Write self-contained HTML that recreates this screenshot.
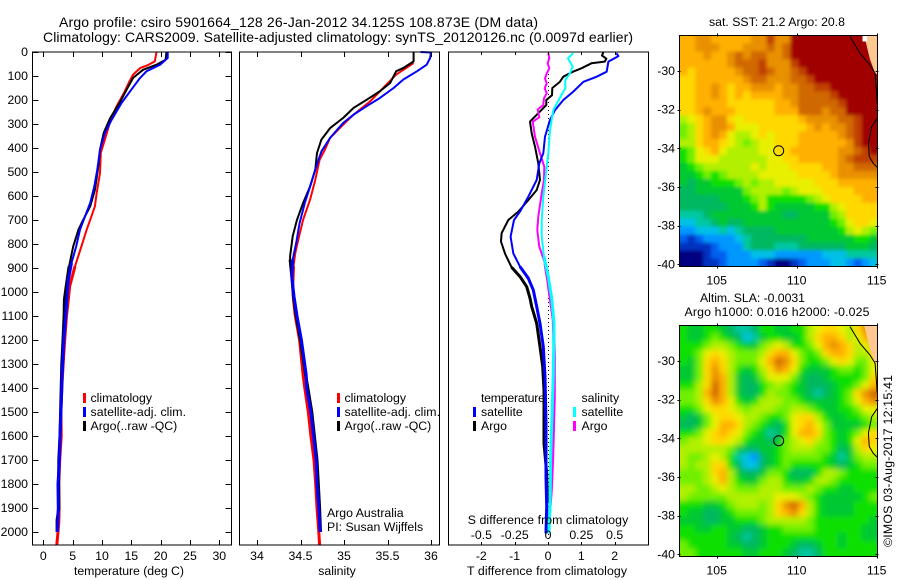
<!DOCTYPE html>
<html lang="en">
<head>
<meta charset="utf-8">
<title>Argo profile csiro 5901664_128</title>
<style>
html,body{margin:0;padding:0;background:#fff;}
svg{display:block;}
text{font-family:"Liberation Sans",sans-serif;font-size:12.3px;fill:#000;}
</style>
</head>
<body>
<svg id="chart" xmlns="http://www.w3.org/2000/svg" width="900" height="580" viewBox="0 0 900 580">
<rect width="900" height="580" fill="#fff"/>
<text x="59" y="27" style="font-size:14px" textLength="479">Argo profile: csiro 5901664_128 26-Jan-2012 34.125S 108.873E (DM data)</text>
<text x="43" y="42" style="font-size:14px" textLength="590">Climatology: CARS2009. Satellite-adjusted climatology: synTS_20120126.nc (0.0097d earlier)</text>
<g id="layer-marks"></g>

<text x="129" y="575" text-anchor="middle" textLength="110">temperature (deg C)</text>
<text x="337" y="575" text-anchor="middle">salinity</text>
<text x="547" y="575" text-anchor="middle" textLength="160">T difference from climatology</text>
<text x="548" y="524" text-anchor="middle" textLength="160.5">S difference from climatology</text>

<g>
<rect x="83" y="393" width="3" height="10" fill="#f00"/>
<text x="90.5" y="402">climatology</text>
<rect x="83" y="407" width="3" height="10" fill="#00f"/>
<text x="90.5" y="416" textLength="95.5">satellite-adj. clim.</text>
<rect x="83" y="421" width="3" height="10" fill="#000"/>
<text x="90.5" y="430">Argo(..raw -QC)</text>
</g>
<g>
<rect x="337" y="393" width="3" height="10" fill="#f00"/>
<text x="344.5" y="402">climatology</text>
<rect x="337" y="407" width="3" height="10" fill="#00f"/>
<text x="344.5" y="416" textLength="95.5">satellite-adj. clim.</text>
<rect x="337" y="421" width="3" height="10" fill="#000"/>
<text x="344.5" y="430">Argo(..raw -QC)</text>
<text x="327" y="517">Argo Australia</text>
<text x="327" y="531">PI: Susan Wijffels</text>
</g>
<g>
<text x="481" y="402" textLength="64">temperature</text>
<rect x="473" y="407" width="3" height="10" fill="#00f"/>
<text x="481" y="416">satellite</text>
<rect x="473" y="421" width="3" height="10" fill="#000"/>
<text x="481" y="430">Argo</text>
<text x="581.5" y="402">salinity</text>
<rect x="573" y="407" width="3" height="10" fill="#0ff"/>
<text x="581.5" y="416">satellite</text>
<rect x="573" y="421" width="3" height="10" fill="#f0f"/>
<text x="581.5" y="430">Argo</text>
</g>

<text x="777" y="26" text-anchor="middle">sat. SST: 21.2 Argo: 20.8</text>
<text x="752.5" y="302" text-anchor="middle" textLength="105">Altim. SLA: -0.0031</text>
<text x="777" y="316" text-anchor="middle" textLength="185">Argo h1000: 0.016 h2000: -0.025</text>
<text transform="translate(892,547) rotate(-90)" textLength="172">©IMOS 03-Aug-2017 12:15:41</text>
</svg>

<script>
/* Depth profile data: depths in dbar, values in physical units */
const climDepthT = [0,39,57,67,94,122,170,226,289,365,420,504,587,643,685,740,810,893,976,1032,1100,1200,1275,1400,1500,1600,1700,1800,1900,1960,2000,2054];
const climTemp = [19.3,19.0,17.6,16.5,15.3,14.7,13.75,12.5,11.4,10.5,9.8,9.66,9.1,8.8,8.2,7.4,6.5,5.4,4.5,4.26,3.95,3.65,3.45,3.15,3.0,3.05,2.8,2.65,2.7,2.65,2.5,2.3];
const argoDepthT = [0,32,53,74,108,157,212,275,337,407,476,574,643,699,740,810,893,976,1032,1100,1200,1300,1400,1500,1600,1700,1800,1900,1950,2000];
const argoTemp = [21.0,20.85,19.3,17,15.3,14.2,13,11.4,10.3,9.66,9.4,8.8,8,6.8,6,5.1,4.4,3.9,3.6,3.55,3.35,3.15,3.05,2.95,2.85,2.65,2.6,2.65,2.35,2.35];
const satDepthT = [0,25,53,80,108,157,212,282,337,407,490,560,629,685,740,810,879,949,1032,1100,1200,1346,1400,1500,1600,1700,1800,1900,2000];
const satTemp = [21.2,21.2,19.9,17.6,16.5,15,13.35,11.65,10.5,9.66,9.2,8.7,8,7.1,6.25,5.6,4.8,4.26,4,3.8,3.5,3.2,3.15,3.0,2.85,2.75,2.5,2.55,2.4];

const climDepthS = [46,94,150,206,261,303,358,407,449,532,615,699,782,837,893,976,1032,1100,1200,1346,1400,1500,1600,1700,1800,1900,2000,2054];
const climSal = [35.8,35.6,35.45,35.3,35.11,34.99,34.84,34.78,34.72,34.67,34.61,34.53,34.475,34.44,34.42,34.41,34.42,34.44,34.49,34.53,34.55,34.59,34.62,34.655,34.675,34.69,34.71,34.72];
const argoDepthS = [0,39,67,80,129,164,199,233,275,317,365,421,490,560,629,699,768,851,865,935,1018,1100,1200,1346,1500,1700,1900,2000];
const argoSal = [35.8,35.8,35.68,35.6,35.53,35.41,35.26,35.11,34.99,34.84,34.74,34.69,34.67,34.61,34.53,34.46,34.41,34.38,34.38,34.4,34.42,34.45,34.5,34.56,34.63,34.69,34.72,34.73];
const satDepthS = [0,2,25,53,80,115,150,192,226,261,296,358,414,490,560,629,713,796,865,935,1018,1100,1200,1346,1400,1500,1600,1700,1800,1900,2000];
const satSal = [35.88,36.0,35.99,35.95,35.84,35.68,35.57,35.41,35.26,35.11,34.99,34.84,34.74,34.67,34.61,34.55,34.49,34.45,34.41,34.4,34.425,34.46,34.51,34.566,34.57,34.62,34.65,34.68,34.69,34.71,34.725];

const diffArgoTDepth = [0,15,28,40,47,68,82,103,125,150,180,200,221,255,290,339,394,464,533,575,617,665,700,755,790,840,897,936,978,1026,1061,1131,1228,1311,1408,1631,1755,1880];
const diffArgoT = [1.66,1.62,1.75,1.7,1.3,1.0,0.75,0.46,0.35,0.13,0.12,-0.05,-0.05,-0.29,-0.54,-0.49,-0.39,-0.29,-0.24,-0.34,-0.59,-0.89,-1.19,-1.39,-1.41,-1.29,-1.09,-0.84,-0.64,-0.54,-0.49,-0.34,-0.24,-0.16,-0.12,-0.12,-0.04,-0.02];
const diffSatTDepth = [5,17,40,82,103,124,165,200,242,283,353,422,464,533,603,665,700,769,839,894,943,992,1061,1131,1228,1353,1547,1769,1894,2006];
const diffSatT = [2.05,2.11,1.81,1.76,1.46,1.06,0.76,0.46,0.21,0.06,-0.09,-0.14,-0.26,-0.34,-0.59,-0.84,-1.02,-1.12,-1.04,-0.84,-0.59,-0.44,-0.34,-0.24,-0.14,-0.09,-0.06,-0.06,-0.04,-0.06];
const diffSatSDepth = [5,26,61,89,117,151,200,242,325,422,505,603,700,769,853,936,1026,1131,1339,1478,1686,1894,2006];
const diffSatS = [0.19,0.15,0.185,0.165,0.13,0.13,0.08,0.04,0.015,0.0025,-0.015,-0.035,-0.0475,-0.0475,-0.03,0.0025,0.0275,0.045,0.04,0.0325,0.02,0.015,0.0075];
const diffArgoSDepth = [5,26,47,68,89,110,131,151,172,193,221,239,272,290,353,422,478,533,589,686,742,811,881,950,1019,1117,1269,1436,1686,1825,1936];
const diffArgoS = [0.0025,0.01,-0.0025,0.01,-0.01,-0.0225,-0.01,-0.025,-0.01,-0.03,-0.035,-0.0775,-0.065,-0.115,-0.0975,-0.06,-0.0275,-0.03,-0.0475,-0.0725,-0.08,-0.065,-0.0225,-0.0025,0.015,0.04,0.0475,0.0475,0.035,0.025,0.01];

/* Tick labels */
const depthTicks = [0,100,200,300,400,500,600,700,800,900,1000,1100,1200,1300,1400,1500,1600,1700,1800,1900,2000];
const tempTicks = [0,5,10,15,20,25,30];
const salTicks = [34,34.5,35,35.5,36];
const tDiffTicks = [-2,-1,0,1,2];
const sDiffTicks = [-0.5,-0.25,0,0.25,0.5];
const lonTicks = [105,110,115];
const latTicksSst = [-30,-32,-34,-36,-38,-40];
const latTicksSla = [-30,-32,-34,-36,-38,-40];

/* Map colour levels (0 navy ... 17 dark red) */
const sstLevels = [
[13,13,14,14,13,13,13,13,13,14,14,16,14,14,17,17,17,17,17,17,17,17,17,17,17],
[13,13,14,14,14,13,13,13,14,14,14,15,14,15,17,17,17,17,17,17,17,17,17,17,17],
[13,13,13,14,13,13,14,15,14,15,15,14,14,15,17,17,17,17,17,17,17,17,17,17,17],
[13,13,13,13,13,13,14,15,15,15,16,14,14,14,16,17,17,17,17,17,17,17,17,17,17],
[13,12,13,13,13,13,13,14,15,15,16,15,14,14,15,16,17,17,17,17,17,17,17,17,17],
[12,12,13,13,13,13,13,13,14,15,15,14,14,14,15,15,16,17,17,17,17,17,17,17,17],
[12,12,13,13,14,13,12,13,13,14,14,14,13,14,14,15,15,16,16,17,17,17,17,17,17],
[12,12,13,13,14,13,12,13,12,13,13,13,13,14,14,15,15,15,15,16,17,17,17,17,17],
[12,12,13,13,13,13,12,12,12,12,12,12,13,13,14,15,15,15,15,15,16,17,17,17,17],
[12,12,13,14,13,13,13,12,12,12,12,12,13,13,13,15,15,15,14,15,15,17,17,17,17],
[10,11,12,13,14,14,12,11,12,12,12,12,12,12,12,13,14,14,14,14,15,15,16,17,17],
[9,10,12,13,14,14,13,11,11,11,12,12,12,12,12,12,13,14,13,14,14,15,16,17,17],
[9,10,12,13,14,13,11,10,10,11,12,11,12,12,12,13,13,13,13,13,14,15,16,17,17],
[10,10,12,13,13,12,11,10,9,10,11,11,12,12,12,13,13,13,13,13,13,14,16,17,17],
[8,9,11,12,13,11,10,10,10,10,11,11,12,12,13,13,13,13,13,13,14,14,15,16,17],
[8,9,11,11,11,10,10,10,10,10,10,11,11,12,12,13,13,13,13,13,14,15,16,16,16],
[7,8,9,10,10,10,10,10,10,11,10,11,11,11,12,12,12,12,13,13,14,14,15,15,15],
[7,7,8,9,8,9,10,10,10,10,11,11,11,11,11,12,12,12,12,13,14,14,14,14,14],
[7,6,7,7,8,8,8,9,10,9,10,10,11,11,11,11,11,12,12,12,13,13,13,13,13],
[6,6,7,7,7,7,7,7,9,10,10,10,10,9,10,11,11,11,12,12,12,12,13,13,13],
[6,6,6,6,6,7,7,7,8,9,10,8,8,8,8,8,9,10,11,12,12,12,12,13,13],
[6,6,6,6,6,6,7,7,7,8,10,8,7,7,7,7,7,8,8,10,11,12,12,12,12],
[5,5,5,6,7,7,7,7,7,7,7,7,7,6,6,7,7,7,7,9,10,12,12,12,12],
[4,4,5,5,6,7,6,6,7,7,7,7,7,7,7,7,7,7,7,8,9,11,12,12,11],
[3,3,4,4,4,5,4,5,6,6,6,6,7,7,7,7,7,7,7,7,8,10,11,10,9],
[2,1,2,3,3,3,3,4,5,6,6,6,6,6,6,6,7,7,7,7,7,7,8,8,7],
[1,1,1,1,2,3,3,3,5,6,6,6,5,5,5,6,6,6,6,6,6,7,7,7,6],
[0,0,0,1,2,2,3,3,3,4,4,4,3,3,3,3,3,3,4,4,4,5,5,5,5],
[0,0,0,1,1,2,3,3,3,3,2,1,0,0,1,2,3,3,3,4,4,3,2,3,4]
];
const slaLevels = [
[8,7,7,8,8,7,6,5,5,6,8,8,7,7,8,8,10,11,12,12,11,10,12,14,14],
[8,7,7,8,9,8,7,6,4,5,7,8,8,7,7,8,10,12,13,13,12,10,11,13,14],
[8,8,8,9,10,10,9,8,7,7,9,10,11,10,8,8,9,11,13,14,13,12,10,11,13],
[8,8,9,11,12,11,10,9,9,9,10,12,13,13,11,9,8,9,12,13,13,12,10,10,12],
[8,7,9,12,13,12,10,9,9,9,11,13,15,14,12,9,8,8,9,11,12,11,9,9,11],
[7,7,9,12,14,12,10,8,7,8,10,12,14,13,11,8,7,7,7,8,9,9,8,9,11],
[7,7,9,12,14,13,10,7,6,7,9,11,11,11,9,7,6,6,7,8,8,8,8,9,12],
[8,8,10,12,15,13,10,7,6,6,8,9,10,9,8,7,6,6,6,7,8,8,9,11,13],
[9,9,10,13,15,13,10,7,6,6,8,10,9,9,8,7,6,5,6,7,8,9,12,14,15],
[9,9,10,12,14,13,11,8,7,8,10,10,10,9,9,8,7,7,7,7,8,9,11,13,14],
[8,8,9,11,12,12,11,10,9,10,10,10,9,9,10,10,9,8,7,7,8,8,9,11,11],
[7,6,7,9,11,12,12,11,10,10,9,8,8,9,11,12,12,10,8,7,7,8,8,9,10],
[6,6,7,9,11,13,13,12,10,9,8,7,6,8,11,12,13,11,9,7,7,7,7,8,9],
[8,8,9,11,12,13,12,11,9,8,7,5,6,8,11,13,13,12,9,8,7,8,9,11,12],
[9,10,10,11,12,12,11,10,8,7,7,6,7,9,10,11,12,10,9,8,7,8,11,13,12],
[10,10,10,10,10,10,9,7,6,6,7,7,8,9,10,10,10,9,9,8,6,7,10,12,11],
[10,9,9,10,11,10,8,5,4,3,6,7,8,9,9,9,9,9,8,7,5,7,9,10,10],
[10,9,10,10,12,12,8,6,4,4,6,7,8,9,8,8,8,8,8,7,6,7,8,9,9],
[9,9,9,10,12,13,10,7,6,6,7,9,9,8,6,6,6,8,10,10,9,8,8,8,8],
[9,9,9,10,11,13,10,8,7,7,9,10,10,8,7,7,8,10,10,9,8,8,8,8,8],
[10,10,9,9,10,11,10,9,9,9,10,10,10,9,9,9,10,9,8,8,7,7,8,8,8],
[10,9,9,9,9,9,10,10,10,10,10,10,11,11,11,10,9,8,7,7,7,7,7,8,9],
[8,8,8,7,7,8,9,10,10,10,9,10,12,14,15,13,10,8,7,7,7,7,8,8,8],
[8,7,7,6,6,7,8,9,9,9,9,10,12,13,14,12,10,8,7,7,7,7,8,8,8],
[7,7,7,6,6,7,7,8,8,8,9,10,10,10,10,10,9,8,8,8,8,8,8,8,7],
[8,8,7,7,8,8,7,7,6,6,7,8,8,9,9,9,9,8,8,8,8,8,8,7,7],
[8,8,8,8,8,8,7,6,5,6,7,8,8,8,8,8,8,8,8,8,7,8,8,7,7],
[9,8,8,8,8,8,7,7,6,6,7,8,8,8,7,6,6,7,8,8,7,8,8,8,8],
[9,9,8,8,8,8,8,8,7,7,8,8,8,7,6,5,5,6,8,8,8,8,8,8,8]
];
const levelColors = ["#000080","#0030c0","#0060f0","#0098ff","#00c0e8","#00c8a0","#00b860","#00c830","#10e000","#70f000","#b0f000","#e8f000","#ffd800","#ffb000","#e89000","#d06800","#c04000","#a00000"];

/* Coast outlines and float position */
const coastLon = [113.33,113.96,114.58,114.9,115.04];
const coastLat = [-28.22,-29.09,-29.69,-30.12,-31.67];
const shelfLon = [115.04,114.69,114.48,114.54,114.79,115.04];
const shelfLat = [-32.45,-32.88,-33.74,-34.43,-34.78,-34.98];
const landLon = [114.2,115.1,115.1,114.9,114.58];
const landLat = [-28.1,-28.1,-30.2,-30.12,-29.4];
const floatLon = 108.873;
const floatLat = -34.125;

const NS = "http://www.w3.org/2000/svg";
const root = document.getElementById("layer-marks");
const panelTop = 52, panelBottom = 545;
const depthY = d => panelTop + d * 0.24;
const tempX = t => 43.3 + t * 5.867;
const salX = s => 257 + (s - 34) * 87;
const tDiffX = t => 548 + t * 33.35;
const sDiffX = s => 548 + s * 133.3;
const lonX = lon => 716.7 + (lon - 105) * 16;
const sstLatY = lat => 71 + (-30 - lat) * 19.33;
const slaLatY = lat => 361 + (-30 - lat) * 19.33;

function mk(tag, attrs, parent) {
  const el = document.createElementNS(NS, tag);
  for (const k in attrs) el.setAttribute(k, attrs[k]);
  (parent || root).appendChild(el);
  return el;
}
function tickLine(x1, y1, x2, y2, parent) {
  const el = mk("line", {x1, y1, x2, y2, stroke: "#000", "stroke-width": 1}, parent);
  
  
}
function tickText(x, y, label, anchor, parent) {
  const el = mk("text", {x, y, "text-anchor": anchor}, parent);
  el.textContent = label;
  
  
}
function frame(x, y, w, h, name) {
  const el = mk("rect", {x, y, width: w, height: h, fill: "none", stroke: "#000", "stroke-width": 1});
  
  
}
/* Upper water column is drawn thin; the deep part of every profile is heavier, as in the source plot */
const deepFrom = 900;
function polyPart(values, depths, xf, color, name, width, keep) {
  const pts = values.map((v, i) => keep(depths[i], depths[i + 1]) ? xf(v).toFixed(1) + "," + depthY(depths[i]).toFixed(1) : "").filter(Boolean).join(" ");
  const el = mk("polyline", {points: pts, fill: "none", stroke: color, "stroke-width": width, "stroke-linejoin": "round"});
  
  
}
function profile(values, depths, xf, color, name) {
  polyPart(values, depths, xf, color, name, 2, d => d <= deepFrom + 150);
  polyPart(values, depths, xf, color, name + '-deep', 3, (d, next) => d >= deepFrom || (next !== undefined && next >= deepFrom));
}

/* Temperature panel */
const L1 = 32.5, R1 = 231.5, L2 = 239.5, R2 = 439.5, L3 = 448.5, R3 = 648.5;
profile(climTemp, climDepthT, tempX, "#f00", "temperature-climatology-line");
profile(argoTemp, argoDepthT, tempX, "#000", "temperature-argo-line");
profile(satTemp, satDepthT, tempX, "#00f", "temperature-satellite-line");
frame(L1, panelTop, R1 - L1, panelBottom - panelTop, "temperature-panel-frame");
depthTicks.forEach(d => {
  const y = Math.round(depthY(d)) + 0.5;
  tickLine(L1, y, L1 + 6, y);
  tickLine(R1 - 6, y, R1, y);
  tickText(28, depthY(d) + 4, String(d), "end");
});
tempTicks.forEach(t => {
  const x = Math.round(tempX(t)) + 0.5;
  tickLine(x, panelTop, x, panelTop + 5);
  tickLine(x, panelBottom - 5, x, panelBottom);
  tickText(tempX(t), 560, String(t), "middle");
});

/* Salinity panel */
profile(climSal, climDepthS, salX, "#f00", "salinity-climatology-line");
profile(argoSal, argoDepthS, salX, "#000", "salinity-argo-line");
profile(satSal, satDepthS, salX, "#00f", "salinity-satellite-line");
frame(L2, panelTop, R2 - L2, panelBottom - panelTop, "salinity-panel-frame");
salTicks.forEach(s => {
  const x = Math.round(salX(s)) + 0.5;
  tickLine(x, panelTop, x, panelTop + 5);
  tickLine(x, panelBottom - 5, x, panelBottom);
  tickText(salX(s), 560, String(s), "middle");
});

/* Difference panel */
for (let y = panelTop + 2; y < panelBottom; y += 4) {
  const dot = mk("rect", {x: 548, y: y, width: 1, height: 1, fill: "#000"});
  
  
}
profile(diffArgoT, diffArgoTDepth, tDiffX, "#000", "t-difference-argo-line");
profile(diffArgoS, diffArgoSDepth, sDiffX, "#f0f", "s-difference-argo-line");
profile(diffSatT, diffSatTDepth, tDiffX, "#00f", "t-difference-satellite-line");
profile(diffSatS, diffSatSDepth, sDiffX, "#0ff", "s-difference-satellite-line");
frame(L3, panelTop, R3 - L3, panelBottom - panelTop, "difference-panel-frame");
tDiffTicks.forEach(t => {
  const x = Math.round(tDiffX(t)) + 0.5;
  tickLine(x, panelTop, x, panelTop + 3);
  tickLine(x, panelBottom - 3, x, panelBottom);
  tickText(tDiffX(t), 560, String(t), "middle");
});
sDiffTicks.forEach(s => {
  tickText(sDiffX(s), 539, String(s), "middle");
});

/* Maps */
function drawMap(levels, top, bottom, latY, latTicks, name, blur, showWhitePatch) {
  const left = 679.5, right = 877.5;
  const rows = levels.length, cols = levels[0].length;
  const cw = (right - left) / cols, ch = (bottom - top) / rows;
  const defs = mk("defs", {});
  const clip = mk("clipPath", {id: name + "-clip"}, defs);
  mk("rect", {x: left, y: top, width: right - left, height: bottom - top}, clip);
  const filt = mk("filter", {id: name + "-blur", filterUnits: "userSpaceOnUse", x: left - 20, y: top - 20, width: right - left + 40, height: bottom - top + 40}, defs);
  mk("feGaussianBlur", {stdDeviation: blur}, filt);
  const outer = mk("g", {"clip-path": "url(#" + name + "-clip)"});
  
  
  const g = mk("g", {filter: "url(#" + name + "-blur)"}, outer);
  levels.forEach((row, r) => row.forEach((v, c) => {
    const x0 = left + c * cw - (c === 0 ? 10 : 0);
    const y0 = top + r * ch - (r === 0 ? 10 : 0);
    const w = cw + 0.6 + (c === 0 || c === cols - 1 ? 10 : 0);
    const h = ch + 0.6 + (r === 0 || r === rows - 1 ? 10 : 0);
    const cell = mk("rect", {x: x0.toFixed(2), y: y0.toFixed(2), width: w.toFixed(2), height: h.toFixed(2), fill: levelColors[v]}, g);
    
    
  }));
  const landPts = landLon.map((lon, i) => lonX(lon).toFixed(1) + "," + latY(landLat[i]).toFixed(1)).join(" ");
  const land = mk("polygon", {points: landPts, fill: "#ffc890"}, outer);
  
  
  if (showWhitePatch) {
    const gap = mk("rect", {x: 862.5, y: top, width: 4.5, height: 6, fill: "#fff"}, outer);
    
    
  }
  const coastPts = coastLon.map((lon, i) => lonX(lon).toFixed(1) + "," + latY(coastLat[i]).toFixed(1)).join(" ");
  const coast = mk("polyline", {points: coastPts, fill: "none", stroke: "#000", "stroke-width": 1}, outer);
  
  
  const shelfPts = shelfLon.map((lon, i) => lonX(lon).toFixed(1) + "," + latY(shelfLat[i]).toFixed(1)).join(" ");
  const shelf = mk("polyline", {points: shelfPts, fill: "none", stroke: "#000", "stroke-width": 1}, outer);
  
  
  const marker = mk("circle", {cx: lonX(floatLon), cy: latY(floatLat), r: 5, fill: "none", stroke: "#000", "stroke-width": 1}, outer);
  
  
  frame(left, top, right - left, bottom - top, name + "-frame");
  latTicks.forEach(lat => {
    const y = Math.round(latY(lat)) + 0.5;
    tickLine(left - 2, y, left + 1, y);
    tickLine(right - 2, y, right + 1, y);
    tickText(675, latY(lat) + 4, String(lat), "end");
  });
  lonTicks.forEach(lon => {
    const x = Math.round(lonX(lon)) + 0.5;
    tickLine(x, top - 2, x, top + 1);
    tickLine(x, bottom - 1, x, bottom + 2);
    tickText(lonX(lon), bottom + 18, String(lon), "middle");
  });
}
drawMap(sstLevels, 35.5, 266.5, sstLatY, latTicksSst, "sst-map", 1.8, true);
drawMap(slaLevels, 325.5, 556.5, slaLatY, latTicksSla, "sla-map", 3, false);
</script>
</body>
</html>
